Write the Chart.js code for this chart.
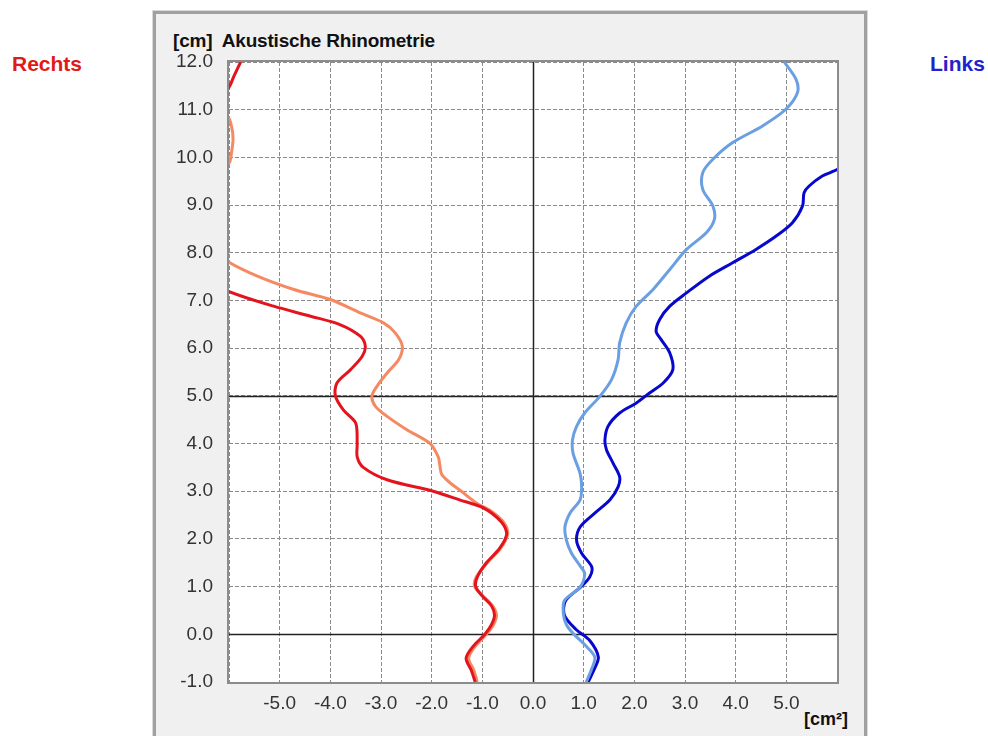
<!DOCTYPE html>
<html>
<head>
<meta charset="utf-8">
<script src="https://cdn.jsdelivr.net/npm/chart.js@4"></script>
<style>
  html, body { margin:0; padding:0; background:#ffffff; width:988px; height:736px; overflow:hidden; }
  .panel { position:absolute; left:153px; top:11px; width:714px; height:740px; box-sizing:border-box;
           border:3px solid #a0a0a0; background:#f0f0f0; box-shadow:0 0 0 1px #dadada; }
  .txt { position:absolute; font-family:"Liberation Sans", Arial, sans-serif; font-weight:bold; white-space:nowrap; line-height:1; }
  #rechts { left:12px; top:53px; font-size:21px; color:#e01a1a; }
  #links  { left:930px; top:53px; font-size:21px; color:#2222cc; }
  #title  { left:173px; top:31px; font-size:19px; color:#111; letter-spacing:-0.2px; }
  #unitX  { left:804px; top:710px; font-size:18px; color:#111; }
  canvas { position:absolute; left:0; top:0; }
</style>
</head>
<body>
<div class="panel"></div>
<div class="txt" id="rechts">Rechts</div>
<div class="txt" id="links">Links</div>
<div class="txt" id="title">[cm]&nbsp; Akustische Rhinometrie</div>
<div class="txt" id="unitX">[cm²]</div>
<canvas id="c" width="988" height="736"></canvas>
<script>
// ---- Data (depth in cm, cross-sectional area in cm²; right side negative) ----
const rechts1Depth = [-1.0,-0.75,-0.5,-0.25,0,0.2,0.4,0.6,0.8,1.0,1.2,1.5,1.8,2.1,2.35,2.65,2.82,3.0,3.24,3.5,3.72,4.0,4.43,4.7,5.0,5.27,5.55,5.83,6.04,6.25,6.49,6.67,6.88,7.2,7.6,8.0,9.0,10.0,11.0,11.43,11.71,12.0];
const rechts1Area  = [-1.14,-1.22,-1.32,-1.18,-0.95,-0.82,-0.76,-0.82,-1.0,-1.13,-1.1,-0.92,-0.66,-0.52,-0.62,-0.98,-1.45,-1.97,-2.88,-3.35,-3.47,-3.47,-3.5,-3.74,-3.9,-3.87,-3.6,-3.37,-3.31,-3.41,-3.8,-4.39,-5.12,-6.03,-6.8,-7.3,-7.8,-7.5,-6.6,-6.03,-5.9,-5.77];

const rechts2Depth = [-1.0,-0.75,-0.5,-0.25,0,0.2,0.4,0.6,0.8,1.0,1.2,1.5,1.8,2.1,2.35,2.6,2.75,3.02,3.17,3.35,3.55,3.72,4.0,4.29,4.57,4.78,4.99,5.2,5.48,5.76,6.04,6.32,6.53,6.74,7.02,7.23,7.51,7.82,8.3,9.0,9.5,9.88,10.1,10.4,10.65,10.85,11.3,12.0];
const rechts2Area  = [-1.1,-1.17,-1.27,-1.14,-0.92,-0.78,-0.72,-0.8,-0.98,-1.15,-1.12,-0.9,-0.64,-0.5,-0.58,-0.85,-1.11,-1.44,-1.63,-1.8,-1.84,-1.87,-2.03,-2.49,-2.88,-3.11,-3.18,-3.08,-2.88,-2.65,-2.58,-2.72,-2.95,-3.41,-4.0,-4.72,-5.44,-6.03,-6.6,-6.8,-6.4,-6.0,-5.95,-5.92,-5.95,-6.02,-6.5,-7.0];

const links1Depth = [-1.0,-0.75,-0.48,-0.13,0.1,0.4,0.7,1.0,1.2,1.41,1.7,1.97,2.25,2.54,2.82,3.09,3.3,3.59,3.87,4.08,4.36,4.64,4.85,5.06,5.27,5.55,5.9,6.18,6.35,6.6,6.88,7.16,7.51,7.79,8.07,8.35,8.63,8.98,9.26,9.4,9.61,9.75,10.2,11.0,12.0];
const links1Area  = [1.09,1.2,1.29,1.12,0.85,0.62,0.64,0.95,1.12,1.16,0.96,0.86,0.93,1.22,1.52,1.68,1.71,1.58,1.45,1.42,1.48,1.71,2.04,2.30,2.57,2.76,2.70,2.53,2.43,2.50,2.70,3.03,3.48,3.94,4.40,4.80,5.12,5.32,5.35,5.45,5.71,6.01,6.6,7.4,8.0];

const links2Depth = [-1.0,-0.75,-0.48,-0.25,0.02,0.2,0.43,0.71,0.99,1.27,1.45,1.7,1.97,2.25,2.54,2.82,3.09,3.37,3.8,4.08,4.36,4.64,4.99,5.34,5.76,6.11,6.53,6.88,7.23,7.65,8.07,8.42,8.7,8.98,9.33,9.68,9.96,10.31,10.66,11.01,11.36,11.64,12.0];
const links2Area  = [1.05,1.15,1.22,1.05,0.79,0.66,0.6,0.62,0.93,1.02,0.92,0.76,0.66,0.63,0.73,0.93,0.96,0.93,0.79,0.78,0.86,1.02,1.32,1.55,1.68,1.71,1.84,2.04,2.37,2.70,3.03,3.42,3.58,3.55,3.35,3.35,3.55,3.94,4.53,4.99,5.22,5.19,4.96];

// axis ranges and reference (solid) lines
const areaRange  = [-6, 6];
const depthRange = [-1, 12];
const refDepthLines = [0, 5];
const refAreaLines  = [0];

function pts(xs, ys) { return xs.map((x, i) => ({ x: x, y: ys[i] })); }

const framePlugin = {
  id: 'frame',
  beforeDraw(chart) {
    const a = chart.chartArea, ctx = chart.ctx;
    ctx.save();
    ctx.fillStyle = '#ffffff';
    ctx.fillRect(a.left, a.top, a.right - a.left, a.bottom - a.top);
    ctx.restore();
  },
  beforeDatasetsDraw(chart) {
    const a = chart.chartArea, ctx = chart.ctx;
    const xs = chart.scales.x, ys = chart.scales.y;
    ctx.save();
    ctx.strokeStyle = '#222222';
    ctx.lineWidth = 1.5;
    refDepthLines.forEach(v => {
      const py = Math.round(ys.getPixelForValue(v)) + 0.5;
      ctx.beginPath(); ctx.moveTo(a.left, py); ctx.lineTo(a.right, py); ctx.stroke();
    });
    refAreaLines.forEach(v => {
      const px = Math.round(xs.getPixelForValue(v)) + 0.5;
      ctx.beginPath(); ctx.moveTo(px, a.top); ctx.lineTo(px, a.bottom); ctx.stroke();
    });
    ctx.restore();
  },
  afterDraw(chart) {
    const a = chart.chartArea, ctx = chart.ctx;
    ctx.save();
    ctx.strokeStyle = '#8c8c8c';
    ctx.lineWidth = 2;
    ctx.strokeRect(a.left - 1, a.top - 1, a.right - a.left + 2, a.bottom - a.top + 2);
    ctx.restore();
  }
};

const lineDs = (label, xs, ys, color) => ({
  label: label,
  data: pts(xs, ys),
  showLine: true,
  borderColor: color,
  backgroundColor: color,
  borderWidth: 3,
  pointRadius: 0,
  tension: 0.3,
  fill: false
});

const tickFont = { family: '"Liberation Sans", Arial, sans-serif', size: 19 };

new Chart(document.getElementById('c'), {
  type: 'scatter',
  data: {
    datasets: [
      lineDs('Links 2', links2Area, links2Depth, '#6a9fe2'),
      lineDs('Rechts 1', rechts1Area, rechts1Depth, '#e3141e'),
      lineDs('Rechts 2', rechts2Area, rechts2Depth, '#f58a62'),
      lineDs('Links 1', links1Area, links1Depth, '#0808cc')
    ]
  },
  options: {
    responsive: false,
    maintainAspectRatio: false,
    animation: false,
    events: [],
    layout: { padding: { left: 169, right: 151, top: 62, bottom: 14 } },
    plugins: { legend: { display: false }, tooltip: { enabled: false }, title: { display: false } },
    scales: {
      x: {
        type: 'linear',
        min: areaRange[0], max: areaRange[1],
        afterFit(s) { s.height = 40; },
        grid: { color: '#8a8a8a', lineWidth: 1, drawTicks: false },
        border: { display: false, dash: [4, 2] },
        ticks: {
          stepSize: 1, autoSkip: false, maxRotation: 0, padding: 10,
          color: '#333', font: tickFont,
          callback: (v) => (v <= areaRange[0] || v >= areaRange[1]) ? '' : Number(v).toFixed(1)
        }
      },
      y: {
        type: 'linear',
        min: depthRange[0], max: depthRange[1],
        afterFit(s) { s.width = 60; },
        grid: { color: '#8a8a8a', lineWidth: 1, drawTicks: false },
        border: { display: false, dash: [4, 2] },
        ticks: {
          stepSize: 1, autoSkip: false, padding: 16,
          color: '#333', font: tickFont,
          callback: (v) => Number(v).toFixed(1)
        }
      }
    }
  },
  plugins: [framePlugin]
});
</script>
</body>
</html>
